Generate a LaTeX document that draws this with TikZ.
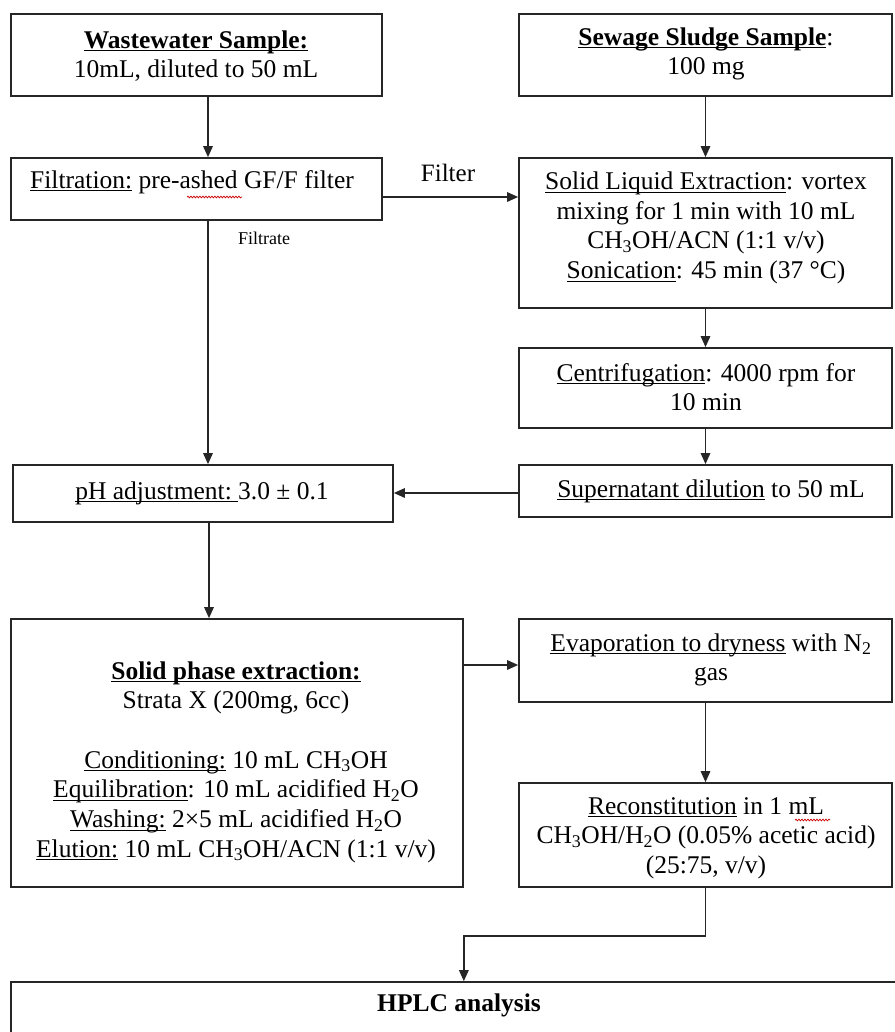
\documentclass[tikz,border=0pt]{standalone}
\usepackage{fontspec}
\setmainfont{Liberation Serif}
\usetikzlibrary{arrows.meta,decorations.pathmorphing}
\newsavebox\myulbox
\newcommand\myul[1]{\sbox\myulbox{#1}\rlap{\rule[-3.2pt]{\wd\myulbox}{1.2pt}}\usebox\myulbox}
\begin{document}
\begin{tikzpicture}[x=1pt,y=-1pt,
  box/.style={draw=black!85, line width=1.7pt, inner sep=0pt, rectangle},
  txt/.style={align=center, inner sep=0pt, font=\fontsize{25.5}{29.7}\selectfont},
  lbl/.style={inner sep=0pt, font=\fontsize{25}{28}\selectfont},
  smalllbl/.style={inner sep=0pt, font=\fontsize{18}{20}\selectfont},
  arr/.style={draw=black!85, line width=1.5pt, -{Triangle[length=11pt,width=9.5pt]}},
  spell/.style={draw=red!80!black, line width=0.7pt, decorate, decoration={snake, amplitude=0.9pt, segment length=3pt}}]
\useasboundingbox (0,0) rectangle (894,1032);
\fill[white] (0,0) rectangle (894,1032);

% boxes
\node[box, minimum width=371pt, minimum height=82pt] (ww) at (196.5,55) {};
\node[box, minimum width=371pt, minimum height=62pt] (filt) at (196.5,189) {};
\node[box, minimum width=373pt, minimum height=82pt] (sew) at (705.5,55) {};
\node[box, minimum width=373pt, minimum height=150pt] (sle) at (705.5,233) {};
\node[box, minimum width=373pt, minimum height=80pt] (cent) at (705.5,388) {};
\node[box, minimum width=373pt, minimum height=52pt] (super) at (705.5,491) {};
\node[box, minimum width=380pt, minimum height=57pt] (ph) at (203,493.5) {};
\node[box, minimum width=452pt, minimum height=268pt] (spe) at (237,753) {};
\node[box, minimum width=373pt, minimum height=83pt] (evap) at (705.5,660.5) {};
\node[box, minimum width=373pt, minimum height=104pt] (recon) at (705.5,835) {};
\node[box, minimum width=889pt, minimum height=80pt] (hplc) at (455.5,1022) {};

% texts
\node[txt] (ww-t) at (196,56) {\myul{\textbf{Wastewater Sample:}}\\10mL, diluted to 50 mL};
\node[txt] (sew-t) at (706,54) {\myul{\textbf{Sewage Sludge Sample}}:\\100 mg};
\node[txt] (filt-t) at (192,182) {\myul{Filtration:} pre-ashed GF/F filter};
\node[txt] (sle-t) at (706,228) {\myul{Solid Liquid Extraction}: vortex\\mixing for 1 min with 10 mL\\CH\textsubscript{3}OH/ACN (1:1 v/v)\\\myul{Sonication}: 45 min (37 °C)};
\node[txt] (cent-t) at (706,387) {\myul{Centrifugation}: 4000 rpm for\\10 min};
\node[txt] (ph-t) at (202,493) {\myul{pH adjustment:\ }3.0 ± 0.1};
\node[txt] (super-t) at (711,491) {\myul{Supernatant dilution} to 50 mL};
\node[txt] (spe-t) at (236,762) {\myul{\textbf{Solid phase extraction:}}\\Strata X (200mg, 6cc)\\ \mbox{}\\\myul{Conditioning:} 10 mL CH\textsubscript{3}OH\\\myul{Equilibration}: 10 mL acidified H\textsubscript{2}O\\\myul{Washing:} 2×5 mL acidified H\textsubscript{2}O\\\myul{Elution:} 10 mL CH\textsubscript{3}OH/ACN (1:1 v/v)};
\node[txt] (evap-t) at (711,660) {\myul{Evaporation to dryness} with N\textsubscript{2}\\gas};
\node[txt] (recon-t) at (706,838) {\myul{Reconstitution} in 1 mL\\CH\textsubscript{3}OH/H\textsubscript{2}O (0.05\% acetic acid)\\(25:75, v/v)};
\node[txt] (hplc-t) at (459,1005) {\textbf{HPLC analysis}};

% labels
\node[lbl] (filter-l) at (448,173) {Filter};
\node[smalllbl] (filtrate-l) at (264,238) {Filtrate};

% spell-check marks
\draw[spell] (187,197) -- (242,197);
\draw[spell] (795,820) -- (830,820);

% connectors
\draw[arr] ([xshift=11.5pt]ww.south) -- ([xshift=11.5pt]filt.north);
\draw[arr] (sew.south) -- (sle.north);
\draw[arr] ([yshift=-8pt]filt.east) -- ([yshift=-8pt]filt.east -| sle.west);
\draw[arr] ([xshift=11.5pt]filt.south) -- ([xshift=11.5pt]filt.south |- ph.north);
\draw[arr] (sle.south) -- (cent.north);
\draw[arr] (cent.south) -- (super.north);
\draw[arr] ([yshift=-2pt]super.west) -- ([yshift=-2pt]super.west -| ph.east);
\draw[arr] ([xshift=6pt]ph.south) -- ([xshift=6pt]ph.south |- spe.north);
\draw[arr] ([yshift=-4.5pt]evap.west -| spe.east) -- ([yshift=-4.5pt]evap.west);
\draw[arr] (evap.south) -- (recon.north);
\draw[arr] (recon.south) -- ++(0,48) -| (hplc.north -| spe.east);
\end{tikzpicture}
\end{document}
